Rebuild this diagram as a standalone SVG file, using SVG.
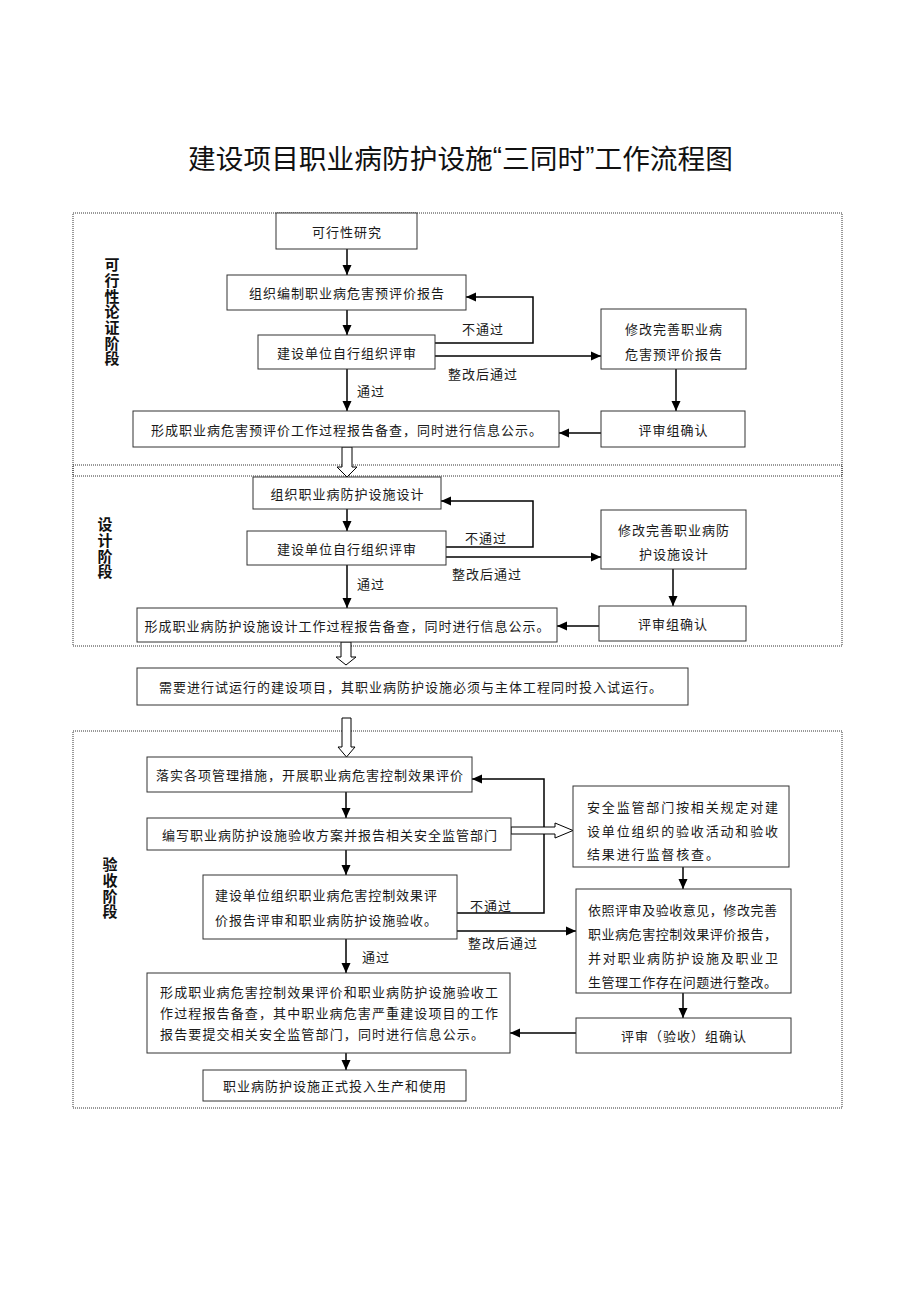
<svg xmlns="http://www.w3.org/2000/svg" width="920" height="1302" viewBox="0 0 920 1302">
<style>
  .frame { fill: none; stroke: #333; stroke-width: 1; stroke-dasharray: 1 1; }
  .box { fill: #fff; stroke: #333; stroke-width: 1; }
  .t { font-family: "Noto Sans CJK SC", "Noto Sans", sans-serif; font-size: 13px; fill: #1a1a1a; letter-spacing: 1px; }
  .c { text-anchor: middle; dominant-baseline: central; }
  .l { text-anchor: start; dominant-baseline: central; letter-spacing: 0; }
  .lbl { font-family: "Noto Sans CJK SC", "Noto Sans", sans-serif; font-size: 13px; fill: #1a1a1a; letter-spacing: 1px; dominant-baseline: central; }
  .stage { font-family: "Noto Sans CJK SC", "Noto Sans", sans-serif; font-size: 15px; font-weight: bold; fill: #111; writing-mode: vertical-rl; letter-spacing: 0.7px; text-anchor: start; }
  .title { font-family: "Noto Sans CJK SC", "Noto Sans", sans-serif; font-size: 27px; fill: #111; text-anchor: middle; dominant-baseline: central; }
  .q { font-family: "Liberation Sans", sans-serif; }
  .ln { fill: none; stroke: #000; stroke-width: 1.5; marker-end: url(#ah); }
  .hollow { fill: #fff; stroke: #000; stroke-width: 1; }
</style>
<defs>
  <marker id="ah" markerUnits="userSpaceOnUse" markerWidth="10" markerHeight="10" refX="10" refY="5" orient="auto">
    <path d="M0,0.5 L10,5 L0,9.5 z" fill="#000"/>
  </marker>
</defs>
<rect width="920" height="1302" fill="#fff"/>

<text class="title" x="460.5" y="157" textLength="545" lengthAdjust="spacingAndGlyphs">建设项目职业病防护设施<tspan class="q">“</tspan>三同时<tspan class="q">”</tspan>工作流程图</text>

<g id="frames">
  <rect class="frame" x="73" y="213" width="769" height="263"/>
  <rect class="frame" x="73" y="465" width="769" height="181"/>
  <rect class="frame" x="73" y="731" width="769" height="377"/>
</g>

<g id="stage-labels">
  <text class="stage" x="112" y="257">可行性论证阶段</text>
  <text class="stage" x="105" y="517">设计阶段</text>
  <text class="stage" x="110" y="857">验收阶段</text>
</g>

<g id="connectors">
  <path class="ln" d="M347,249 V275"/>
  <path class="ln" d="M347,310 V335"/>
  <path class="ln" d="M347,369 V411"/>
  <path class="ln" d="M435,343 H533 V297 H466"/>
  <path class="ln" d="M435,356 H601"/>
  <path class="ln" d="M676,369 V411"/>
  <path class="ln" d="M601,433 H559"/>
  <path class="ln" d="M347,509 V531"/>
  <path class="ln" d="M347,565 V608"/>
  <path class="ln" d="M446,547 H533 V501 H441"/>
  <path class="ln" d="M446,557 H601"/>
  <path class="ln" d="M673,569 V606"/>
  <path class="ln" d="M599,626 H557"/>
  <path class="ln" d="M346,792 V818"/>
  <path class="ln" d="M346,850 V875"/>
  <path class="ln" d="M346,939 V973"/>
  <path class="ln" d="M346,1053 V1070"/>
  <path class="ln" d="M457,913 H544 V779 H472"/>
  <path class="ln" d="M457,931 H576"/>
  <path class="ln" d="M683,867 V889"/>
  <path class="ln" d="M683,993 V1018"/>
  <path class="ln" d="M576,1033 H510"/>
  <polygon class="hollow" points="342,447 352,447 352,467 357,467 347,477 337,467 342,467"/>
  <polygon class="hollow" points="341,642 351,642 351,657 356,657 346,665 336,657 341,657"/>
  <polygon class="hollow" points="342,718 351,718 351,747 355,747 346.5,757 338,747 342,747"/>
  <polygon class="hollow" points="511,827 555,827 555,823 573,830.5 555,838 555,834 511,834"/>
  <text class="lbl" x="357" y="390">通过</text>
  <text class="lbl" x="462" y="328">不通过</text>
  <text class="lbl" x="448" y="373">整改后通过</text>
  <text class="lbl" x="357" y="583">通过</text>
  <text class="lbl" x="465" y="537">不通过</text>
  <text class="lbl" x="452" y="573">整改后通过</text>
  <text class="lbl" x="362" y="956">通过</text>
  <text class="lbl" x="470" y="905">不通过</text>
  <text class="lbl" x="468" y="942">整改后通过</text>
</g>

<g id="n-feasibility">
  <rect class="box" x="276" y="213" width="141" height="36"/>
  <text class="t c" x="347" y="231">可行性研究</text>
</g>
<g id="n-prepare-pre">
  <rect class="box" x="227" y="275" width="239" height="35"/>
  <text class="t c" x="347" y="292.5">组织编制职业病危害预评价报告</text>
</g>
<g id="n-review1">
  <rect class="box" x="258" y="335" width="177" height="34"/>
  <text class="t c" x="347" y="352">建设单位自行组织评审</text>
</g>
<g id="n-record1">
  <rect class="box" x="133" y="411" width="426" height="36"/>
  <text class="t c" x="347" y="429">形成职业病危害预评价工作过程报告备查，同时进行信息公示。</text>
</g>
<g id="n-revise1">
  <rect class="box" x="601" y="309" width="145" height="60"/>
  <text class="t c" x="674" y="328">修改完善职业病</text>
  <text class="t c" x="674" y="353">危害预评价报告</text>
</g>
<g id="n-confirm1">
  <rect class="box" x="601" y="411" width="144" height="36"/>
  <text class="t c" x="673.5" y="429">评审组确认</text>
</g>

<g id="n-design">
  <rect class="box" x="253" y="477" width="188" height="32"/>
  <text class="t c" x="347.5" y="493">组织职业病防护设施设计</text>
</g>
<g id="n-review2">
  <rect class="box" x="247" y="531" width="199" height="34"/>
  <text class="t c" x="347" y="548">建设单位自行组织评审</text>
</g>
<g id="n-record2">
  <rect class="box" x="137" y="608" width="420" height="34"/>
  <text class="t c" x="347.5" y="625">形成职业病防护设施设计工作过程报告备查，同时进行信息公示。</text>
</g>
<g id="n-revise2">
  <rect class="box" x="601" y="510" width="145" height="59"/>
  <text class="t c" x="674" y="529">修改完善职业病防</text>
  <text class="t c" x="674" y="553">护设施设计</text>
</g>
<g id="n-confirm2">
  <rect class="box" x="599" y="606" width="147" height="35"/>
  <text class="t c" x="673" y="623.5">评审组确认</text>
</g>

<g id="n-trial">
  <rect class="box" x="137" y="668" width="551" height="37"/>
  <text class="t c" x="411" y="686.5">需要进行试运行的建设项目，其职业病防护设施必须与主体工程同时投入试运行。</text>
</g>

<g id="n-measures">
  <rect class="box" x="147" y="757" width="325" height="35"/>
  <text class="t c" x="310" y="774.5">落实各项管理措施，开展职业病危害控制效果评价</text>
</g>
<g id="n-plan">
  <rect class="box" x="147" y="818" width="364" height="32"/>
  <text class="t c" x="330" y="834">编写职业病防护设施验收方案并报告相关安全监管部门</text>
</g>
<g id="n-accept">
  <rect class="box" x="203" y="875" width="254" height="64"/>
  <text class="t l" x="215" y="894" textLength="222" lengthAdjust="spacing">建设单位组织职业病危害控制效果评</text>
  <text class="t l" x="215" y="919" textLength="222" lengthAdjust="spacing">价报告评审和职业病防护设施验收。</text>
</g>
<g id="n-supervise">
  <rect class="box" x="573" y="786" width="216" height="81"/>
  <text class="t l" x="587" y="806" textLength="191" lengthAdjust="spacing">安全监管部门按相关规定对建</text>
  <text class="t l" x="587" y="830" textLength="191" lengthAdjust="spacing">设单位组织的验收活动和验收</text>
  <text class="t l" x="587" y="853" textLength="132" lengthAdjust="spacing">结果进行监督核查。</text>
</g>
<g id="n-revise3">
  <rect class="box" x="576" y="889" width="215" height="104"/>
  <text class="t l" x="588" y="909" textLength="189" lengthAdjust="spacing">依照评审及验收意见，修改完善</text>
  <text class="t l" x="588" y="933" textLength="189" lengthAdjust="spacing">职业病危害控制效果评价报告，</text>
  <text class="t l" x="588" y="957" textLength="190" lengthAdjust="spacing">并对职业病防护设施及职业卫</text>
  <text class="t l" x="588" y="981" textLength="189" lengthAdjust="spacing">生管理工作存在问题进行整改。</text>
</g>
<g id="n-record3">
  <rect class="box" x="147" y="973" width="363" height="80"/>
  <text class="t l" x="160" y="991" textLength="338" lengthAdjust="spacing">形成职业病危害控制效果评价和职业病防护设施验收工</text>
  <text class="t l" x="160" y="1012" textLength="338" lengthAdjust="spacing">作过程报告备查，其中职业病危害严重建设项目的工作</text>
  <text class="t l" x="160" y="1033" textLength="324" lengthAdjust="spacing">报告要提交相关安全监管部门，同时进行信息公示。</text>
</g>
<g id="n-confirm3">
  <rect class="box" x="576" y="1018" width="215" height="35"/>
  <text class="t c" x="684" y="1035.5">评审（验收）组确认</text>
</g>
<g id="n-production">
  <rect class="box" x="203" y="1070" width="263" height="31"/>
  <text class="t c" x="335" y="1085.5">职业病防护设施正式投入生产和使用</text>
</g>
</svg>
